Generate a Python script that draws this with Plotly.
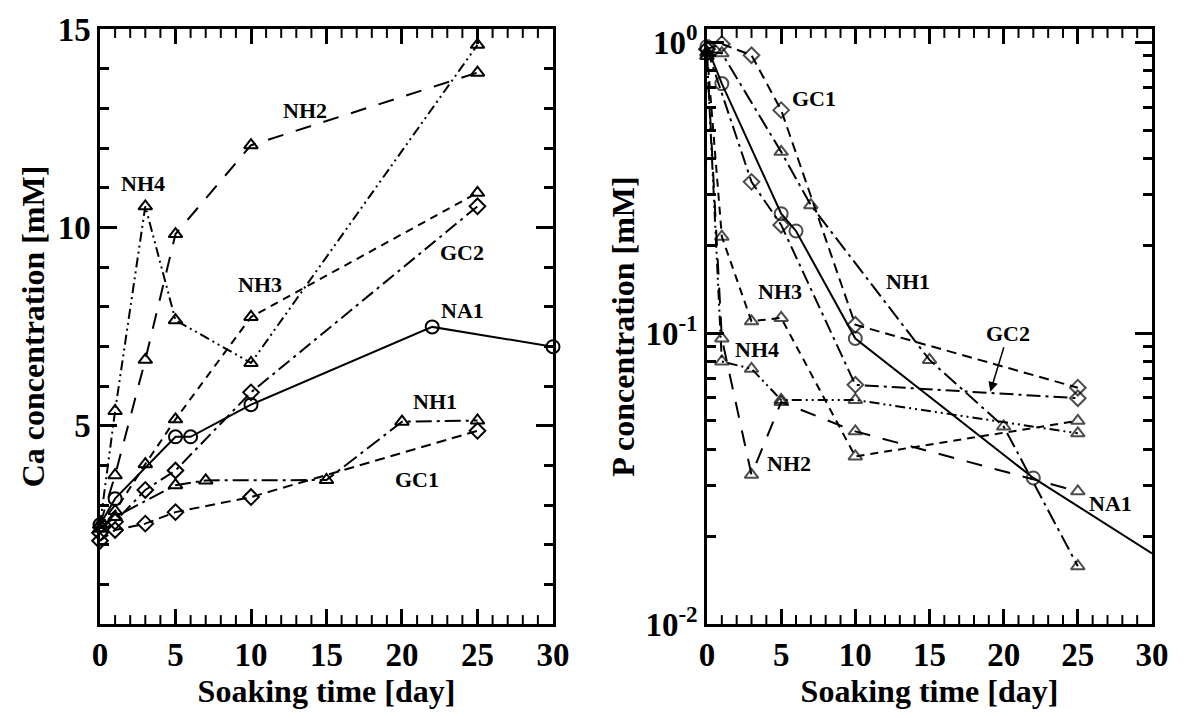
import numpy as np
import plotly.graph_objects as go

# ---------------- Data: Ca concentration (left panel) ----------------
NA1_ca_day = [0, 1, 5, 6, 10, 22, 30]
NA1_ca = [2.5, 3.16, 4.72, 4.72, 5.53, 7.49, 6.99]
GC1_ca_day = [0, 1, 3, 5, 10, 25]
GC1_ca = [2.1, 2.37, 2.53, 2.82, 3.2, 4.87]
GC2_ca_day = [0, 1, 3, 5, 10, 25]
GC2_ca = [2.3, 2.58, 3.38, 3.87, 5.84, 10.53]
NH1_ca_day = [0, 1, 5, 7, 15, 20, 25]
NH1_ca = [2.4, 2.7, 3.5, 3.62, 3.63, 5.1, 5.13]
NH2_ca_day = [0, 1, 3, 5, 10, 25]
NH2_ca = [2.5, 3.75, 6.66, 9.83, 12.07, 13.9]
NH3_ca_day = [0, 1, 3, 5, 10, 25]
NH3_ca = [2.5, 2.85, 4.03, 5.16, 7.74, 10.87]
NH4_ca_day = [0, 1, 3, 5, 10, 25]
NH4_ca = [2.5, 5.37, 10.53, 7.66, 6.58, 14.6]

# ---------------- Data: P concentration (right panel) ----------------
NA1_p_day = [0, 1, 5, 6, 10, 22, 30]
NA1_p = [0.97, 0.723, 0.258, 0.225, 0.096, 0.0318, 0.0175]
GC1_p_day = [0, 1, 3, 5, 10, 25]
GC1_p = [0.95, 0.99, 0.905, 0.586, 0.107, 0.065]
GC2_p_day = [0, 3, 5, 10, 25]
GC2_p = [0.95, 0.332, 0.236, 0.0665, 0.0598]
NH1_p_day = [0, 1, 5, 7, 15, 20, 25]
NH1_p = [0.93, 0.92, 0.421, 0.276, 0.081, 0.0478, 0.0158]
NH2_p_day = [0, 1, 3, 5, 10, 25]
NH2_p = [0.9, 0.096, 0.0326, 0.058, 0.046, 0.0286]
NH3_p_day = [0, 1, 3, 5, 10, 25]
NH3_p = [0.92, 0.215, 0.11, 0.113, 0.0377, 0.050]
NH4_p_day = [0, 1, 3, 5, 10, 25]
NH4_p = [0.9, 0.080, 0.0755, 0.059, 0.059, 0.0453]

# ---------------- Ticks ----------------
x_long = [0, 5, 10, 15, 20, 25, 30]
x_short = [d for d in range(0, 31) if d % 5 != 0]   # daily tick marks
ca_ticks = list(range(0, 16))
ca_ticktext = [str(v) if (v % 5 == 0 and v > 0) else "" for v in ca_ticks]
ca_long = [5, 10, 15]
p_ticks = [m * 10.0 ** e for e in (-2, -1) for m in range(1, 10)] + [1.0]
p_ticktext = ["10<sup>-2</sup>" if v == 0.01 else "10<sup>-1</sup>" if abs(v - 0.1) < 1e-12
              else "10<sup>0</sup>" if v == 1.0 else "" for v in p_ticks]
p_long = [0.01, 0.1, 1.0]

# ---------------- Styles ----------------
FONT = "Liberation Serif"
styles = {
    "NA1": dict(dash="solid", symbol="circle-open", size=13),
    "GC1": dict(dash="10px,6px", symbol="diamond-open", size=12),
    "GC2": dict(dash="14px,5px,3px,5px", symbol="diamond-open", size=12),
    "NH1": dict(dash="16px,5px,3px,5px", symbol="triangle-up-open", size=12),
    "NH2": dict(dash="16px,13px", symbol="triangle-up-open", size=12),
    "NH3": dict(dash="8px,6px", symbol="triangle-up-open", size=12),
    "NH4": dict(dash="10px,4px,2px,4px,2px,4px", symbol="triangle-up-open", size=12),
}

left_series = [
    ("NA1", NA1_ca_day, NA1_ca), ("GC1", GC1_ca_day, GC1_ca), ("GC2", GC2_ca_day, GC2_ca),
    ("NH1", NH1_ca_day, NH1_ca), ("NH2", NH2_ca_day, NH2_ca), ("NH3", NH3_ca_day, NH3_ca),
    ("NH4", NH4_ca_day, NH4_ca),
]
right_series = [
    ("NA1", NA1_p_day, NA1_p), ("GC1", GC1_p_day, GC1_p), ("GC2", GC2_p_day, GC2_p),
    ("NH1", NH1_p_day, NH1_p), ("NH2", NH2_p_day, NH2_p), ("NH3", NH3_p_day, NH3_p),
    ("NH4", NH4_p_day, NH4_p),
]

fig = go.Figure()
for name, xs, ys in left_series:
    s = styles[name]
    fig.add_trace(go.Scatter(
        x=xs, y=ys, mode="lines+markers", name=name, xaxis="x", yaxis="y",
        line=dict(color="black", width=2, dash=s["dash"]),
        marker=dict(symbol=s["symbol"], size=s["size"], color="black", line=dict(width=2, color="black")),
        cliponaxis=False,
    ))
for name, xs, ys in right_series:
    s = styles[name]
    sizes = [s["size"]] * len(xs)
    if name == "NA1":
        sizes[-1] = 0
    fig.add_trace(go.Scatter(
        x=xs, y=ys, mode="lines+markers", name=name, xaxis="x2", yaxis="y2",
        line=dict(color="black", width=2, dash=s["dash"]),
        marker=dict(symbol=s["symbol"], size=sizes, color="black", line=dict(width=2, color="black")),
        cliponaxis=False,
    ))

tickfont = dict(family=FONT, size=33, color="black", weight="bold")
titlefont = dict(family=FONT, size=32, color="black", weight="bold")

axis_line = dict(showline=True, linewidth=2.5, linecolor="black", mirror="ticks",
                 showgrid=False, zeroline=False, tickcolor="black")

main_x = dict(
    range=[0, 30], tickmode="array", tickvals=x_long,
    ticks="inside", ticklen=15, tickwidth=2.5,
    tickfont=tickfont, title=dict(text="Soaking time [day]", font=titlefont, standoff=8),
    **axis_line,
)

fig.update_layout(
    width=1184, height=718,
    margin=dict(l=100, r=32, t=27, b=94),
    paper_bgcolor="white", plot_bgcolor="white", showlegend=False,
    xaxis=dict(domain=[0, 0.4306], anchor="y", **main_x),
    yaxis=dict(
        domain=[0, 1], anchor="x", range=[0, 15], tickmode="array", tickvals=ca_ticks, ticktext=ca_ticktext,
        ticks="inside", ticklen=9, tickwidth=2.5, tickfont=tickfont,
        minor=dict(tickmode="array", tickvals=ca_long, ticks="inside", ticklen=17, tickwidth=2.5, tickcolor="black"),
        title=dict(text="Ca concentration [mM]", font=titlefont, standoff=4), **axis_line,
    ),
    xaxis2=dict(domain=[0.577, 1], anchor="y2", **main_x),
    yaxis2=dict(
        domain=[0, 1], anchor="x2", type="log", range=[-2, 0.047], tickmode="array",
        tickvals=p_ticks, ticktext=p_ticktext, ticks="inside", ticklen=9, tickwidth=2.5, tickfont=tickfont,
        minor=dict(tickmode="array", tickvals=p_long, ticks="inside", ticklen=17, tickwidth=2.5, tickcolor="black"),
        title=dict(text="P concentration [mM]", font=titlefont, standoff=2), **axis_line,
    ),
)

# daily tick marks on bottom and top edges of both x axes (built from the tick list)
TICK_FRAC = 0.015
for xref, yref in (("x", "y domain"), ("x2", "y2 domain")):
    for d in x_short:
        fig.add_shape(type="line", xref=xref, yref=yref, x0=d, x1=d, y0=0, y1=TICK_FRAC,
                      line=dict(color="black", width=2), layer="above")
        fig.add_shape(type="line", xref=xref, yref=yref, x0=d, x1=d, y0=1 - TICK_FRAC, y1=1,
                      line=dict(color="black", width=2), layer="above")

labfont = dict(family=FONT, size=22, color="black", weight="bold")
left_labels = [
    ("NH2", 13.6, 12.95), ("NH4", 2.85, 11.1), ("NH3", 10.6, 8.57), ("GC2", 24.0, 9.37),
    ("NA1", 24.0, 7.9), ("NH1", 22.2, 5.62), ("GC1", 21.0, 3.65),
]
for t, x, y in left_labels:
    fig.add_annotation(x=x, y=y, xref="x", yref="y", text=t, showarrow=False, font=labfont)

right_labels = [
    ("GC1", 7.2, 0.642), ("NH1", 13.55, 0.151), ("NH3", 4.9, 0.139), ("NH4", 3.4, 0.0877),
    ("NH2", 5.55, 0.0357), ("NA1", 27.2, 0.026),
]
for t, x, y in right_labels:
    fig.add_annotation(x=x, y=np.log10(y), xref="x2", yref="y2", text=t, showarrow=False, font=labfont)

fig.add_annotation(
    x=19.1, y=np.log10(0.063), xref="x2", yref="y2", text="GC2", font=labfont,
    showarrow=True, axref="x2", ayref="y2", ax=20.3, ay=np.log10(0.1),
    arrowhead=2, arrowsize=1.3, arrowwidth=1.5, arrowcolor="black",
)

fig.write_html("out.html", config={"displayModeBar": False},
               post_script="document.body.style.margin='0';")
